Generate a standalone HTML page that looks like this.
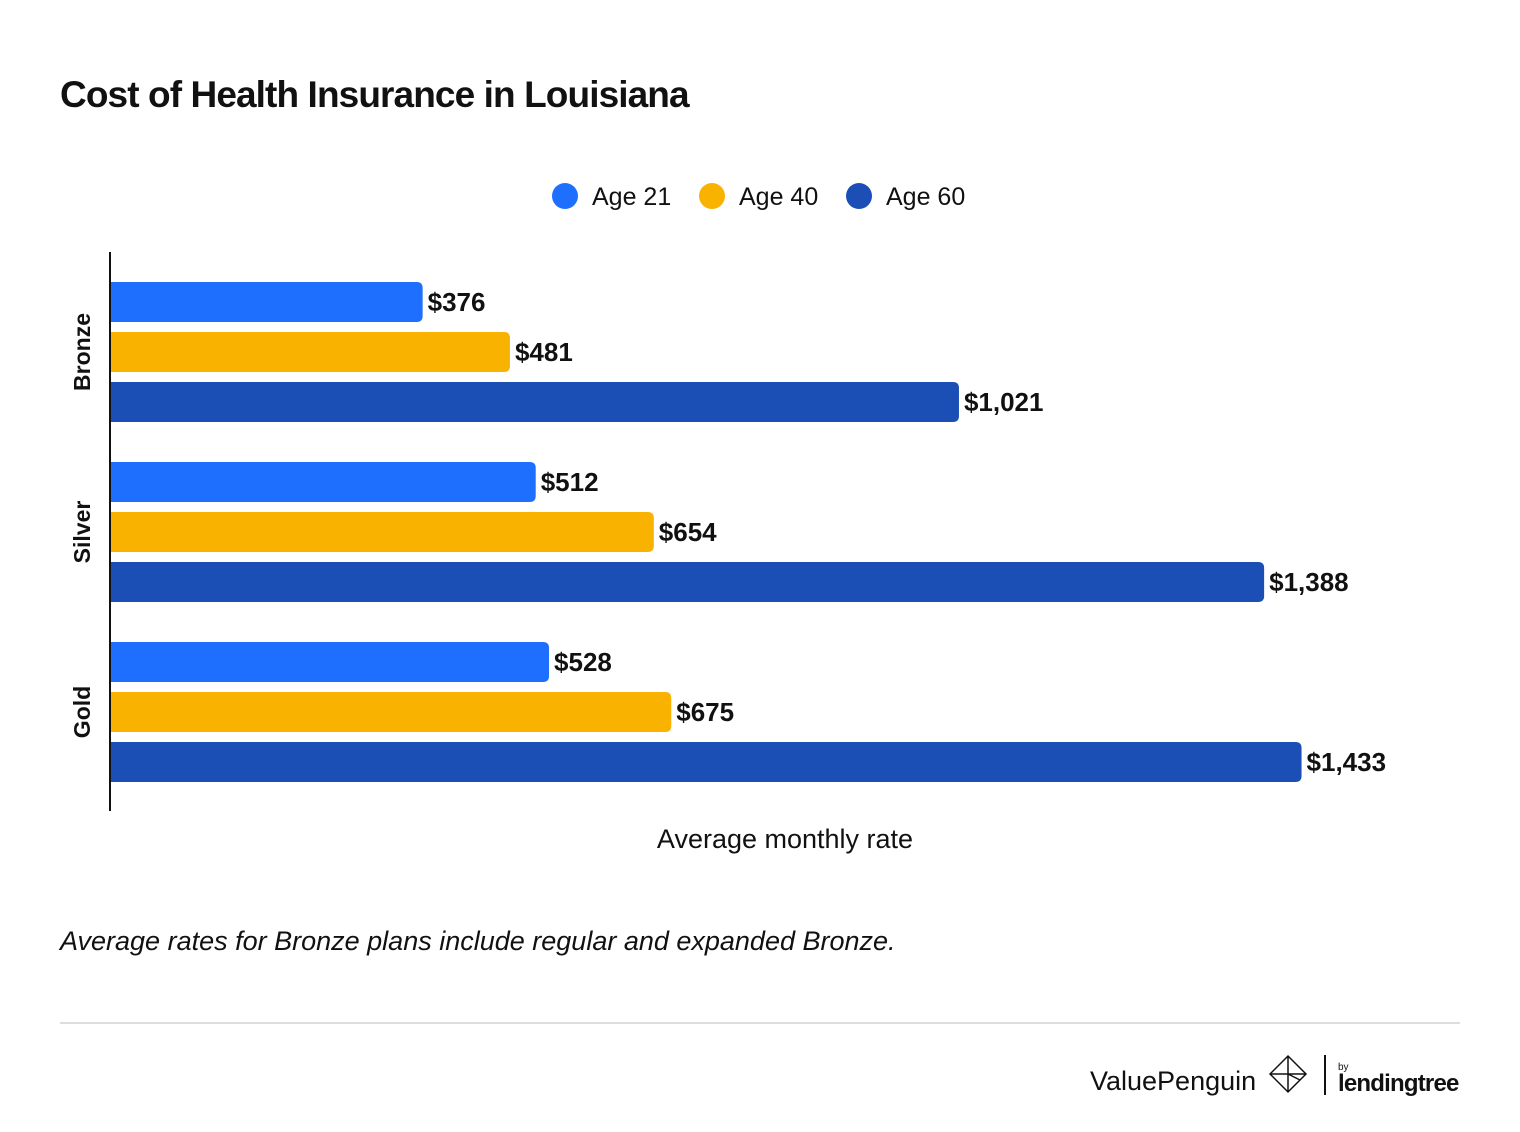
<!DOCTYPE html>
<html><head><meta charset="utf-8">
<style>
body{margin:0;width:1520px;height:1132px;background:#fff;font-family:"Liberation Sans",sans-serif;position:relative;overflow:hidden}
.abs{position:absolute}
</style></head>
<body>
<div class="abs" style="left:60px;top:74px;font-size:37px;font-weight:bold;color:#111;letter-spacing:-0.9px">Cost of Health Insurance in Louisiana</div>
<svg id="chart" class="abs" style="left:0;top:0" width="1520" height="1000"></svg>
<div class="abs" style="left:60px;top:926px;font-size:27px;font-style:italic;color:#111">Average rates for Bronze plans include regular and expanded Bronze.</div>
<div class="abs" style="left:60px;top:1022px;width:1400px;height:2px;background:#ddd"></div>
<div class="abs" style="left:1090px;top:1066px;font-size:27px;color:#111">ValuePenguin</div>
<svg class="abs" style="left:1268px;top:1054px" width="42" height="42"><g fill="none" stroke="#111" stroke-width="1.5"><path d="M20 2 L38 20 L20 38 L2 20 Z M20 2 L20 38 M2 20 L20 20 L38 20 M20 20 L32 26"/></g></svg>
<div class="abs" style="left:1324px;top:1055px;width:2px;height:40px;background:#111"></div>
<div class="abs" style="left:1338px;top:1062px;font-size:10px;color:#111">by</div>
<div class="abs" style="left:1338px;top:1070px;font-size:24px;font-weight:bold;color:#111;letter-spacing:-0.8px">lendingtree</div>
<script>
const categories=["Bronze","Silver","Gold"];
const seriesNames=["Age 21","Age 40","Age 60"];
const age21=[376,512,528];
const age40=[481,654,675];
const age60=[1021,1388,1433];
const colors=["#1f6fff","#f9b200","#1b4fb5"];
const svg=document.getElementById('chart');
const NS="http://www.w3.org/2000/svg";
const x0=110,scale=0.8315;
const xs=v=>v*scale;
const groupTop=i=>282+i*180;
function mk(t,a){const e=document.createElementNS(NS,t);for(const k in a)e.setAttribute(k,a[k]);svg.appendChild(e);return e;}
const lx=[565,712,859];
seriesNames.forEach((n,i)=>{
 const c=mk('circle',{cx:lx[i],cy:196,r:13,fill:colors[i]});
 
 
 const t=mk('text',{x:lx[i]+27,y:205,'font-size':25,fill:'#111','font-family':'Liberation Sans, sans-serif'});
 t.textContent=n;
 
 
});
const series=[age21,age40,age60];
categories.forEach((c,i)=>{
 series.forEach((s,j)=>{
  const y=groupTop(i)+j*50,w=xs(s[i]);
  const r=mk('path',{d:`M${x0} ${y} H${x0+w-6} Q${x0+w} ${y} ${x0+w} ${y+6} V${y+34} Q${x0+w} ${y+40} ${x0+w-6} ${y+40} H${x0} Z`,fill:colors[j]});
  
  
  const t=mk('text',{x:x0+w+5,y:y+29,'font-size':26,'font-weight':'bold',fill:'#111','font-family':'Liberation Sans, sans-serif'});
  t.textContent='$'+s[i].toLocaleString('en-US');
  
  
 });
 const cy=groupTop(i)+70;
 const t=mk('text',{x:0,y:0,transform:`translate(90 ${cy}) rotate(-90)`,'text-anchor':'middle','font-size':23,'font-weight':'bold',fill:'#111','font-family':'Liberation Sans, sans-serif'});
 t.textContent=c;
 
 
});
const ax=mk('line',{x1:x0,y1:252,x2:x0,y2:811,stroke:'#111','stroke-width':2});


const at=mk('text',{x:785,y:848,'text-anchor':'middle','font-size':27,fill:'#111','font-family':'Liberation Sans, sans-serif'});
at.textContent='Average monthly rate';


</script>
</body></html>
